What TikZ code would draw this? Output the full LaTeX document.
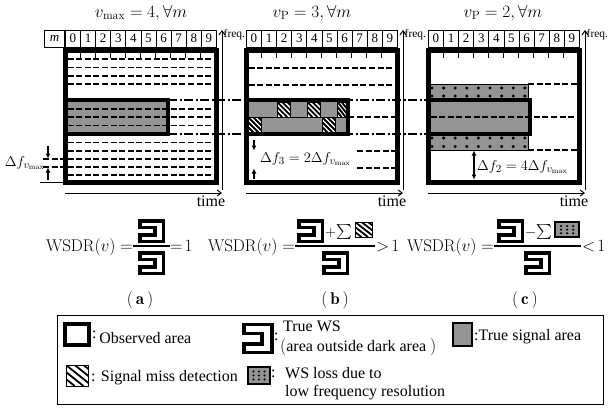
\documentclass[tikz,border=0pt]{standalone}
\usepackage{amssymb}
\usepackage{fontspec}
\newfontfamily\tms{Liberation Serif}
\usetikzlibrary{positioning,arrows.meta}

\tikzset{
  obsbox/.style={line width=5pt},
  sigfill/.style={fill=black!42},
  sigedge/.style={line width=3.5pt},
  dashline/.style={line width=1.1pt, dash pattern=on 6pt off 2.6pt},
  bandline/.style={line width=1.2pt, dash pattern=on 9pt off 2.5pt on 2pt off 2.5pt},
  axis/.style={line width=1pt, -{Straight Barb[length=4pt,width=6pt]}},
  gap/.style={line width=1.3pt, -{Latex[length=5pt,width=5pt]}},
  cell/.style={draw, line width=0.8pt, minimum width=15.1pt, minimum height=17pt,
    inner sep=0pt, font=\tms\fontsize{13}{13}\selectfont},
  lbl/.style={inner sep=0pt, font=\tms\fontsize{16}{18}\selectfont},
  small/.style={inner sep=0pt, font=\tms\fontsize{11.5}{12}\selectfont},
  eq/.style={inner sep=0pt, font=\fontsize{15}{18}\selectfont},
  eqbig/.style={inner sep=0pt, font=\fontsize{17}{20}\selectfont},
  ws/.pic={
    \draw[line width=3.5pt] (1.75,1.75) -- (25.25,1.75) -- (25.25,22.25) -- (1.75,22.25)
      -- (1.75,16) -- (17,16) -- (17,8.5) -- (1.75,8.5) -- cycle;
  },
  miss/.pic={
    \fill[white] (0,0) rectangle (13,15);
    \begin{scope}
      \clip (0,0) rectangle (13,15);
      \foreach \s in {-15,-10,...,15}
        \draw[line width=1.8pt] (\s,0) -- ++(15,15);
    \end{scope}
    \draw[line width=0.8pt] (0,0) rectangle (13,15);
  },
  loss/.pic={
    \filldraw[sigfill, line width=1.8pt] (0,0) rectangle (22,17);
    \foreach \i in {5.5,11,16.5}
      \foreach \j in {4.5,8.5,12.5}
        \fill (\i,\j) circle (1.2);
  }
}

\begin{document}
\begin{tikzpicture}[x=1pt, y=-1pt]
  \useasboundingbox (0,0) rectangle (608,408);

  % band edges across the panels
  \draw[bandline] (168,100) -- (428,100);
  \draw[bandline] (168,134) -- (428,134);

  % (a)
  \fill[sigfill] (65,100) rectangle (168,134);
  \foreach \y in {59,67.5,76,84,109,117,125.5,142.5,151,159,167,175}
    \draw[dashline] (67.5,\y) -- (213.5,\y);
  \draw[sigedge] (65,100) rectangle (168,134);
  \draw[dashline] (43,159) -- (65,159);
  \draw[dashline] (43,167) -- (65,167);
  \draw[line width=1pt] (40,182) -- (65,182);
  \coordinate (dA1) at (48,146);
  \coordinate (dA2) at (48,158.5);
  \coordinate (dA3) at (48,180);
  \coordinate (dA4) at (48,167.5);
  \draw[gap] (dA1) -- (dA2);
  \draw[gap] (dA3) -- (dA4);
  \node[eq, anchor=east] (dfa) at (45,163) {$\Delta f_{v_{\max}}$};
  \node[cell, anchor=south east, minimum width=20pt] (hm) at (65,47.5) {\textit{m}};

  % (b)
  \fill[sigfill] (246,100) rectangle (348,134);
  \foreach \y in {68,85}
    \draw[dashline] (248.5,\y) -- (394.5,\y);
  \draw[dashline] (348,117) -- (394.5,117);
  \draw[line width=0.8pt] (246,117) -- (348,117);
  \pic at (277.2,102) {miss};
  \pic at (307.4,102) {miss};
  \pic[xscale=0.8] at (337.6,102) {miss};
  \pic at (248.5,117.5) {miss};
  \pic at (322.5,117.5) {miss};
  \draw[sigedge] (246,100) rectangle (348,134);
  \foreach \y in {151,168}
    \draw[dashline] (357,\y) -- (394.5,\y);
  \coordinate (dB1) at (254,140);
  \coordinate (dB2) at (254,150.5);
  \coordinate (dB3) at (254,179);
  \coordinate (dB4) at (254,168.5);
  \draw[gap] (dB1) -- (dB2);
  \draw[gap] (dB3) -- (dB4);
  \node[eq, anchor=west] (dfb) at (260,159) {$\Delta f_3 = 2\Delta f_{v_{\max}}$};

  % (c)
  \filldraw[sigfill, line width=0.8pt] (428,84) rectangle (528,150);
  \foreach \k in {0,...,8}
    \foreach \y in {88,96,138,146.5}
      \fill (432+\k*11.6,\y) circle (1.7);
  \fill[sigfill] (428,100) rectangle (530,134);
  \draw[dashline] (430.5,117) -- (576.5,117);
  \draw[dashline] (528,84) -- (576.5,84);
  \draw[dashline] (528,150) -- (576.5,150);
  \draw[sigedge] (428,100) rectangle (530,134);
  \coordinate (dC1) at (474,150.5);
  \coordinate (dC2) at (474,179.5);
  \draw[gap, {Latex[length=5pt,width=5pt]}-{Latex[length=5pt,width=5pt]}] (dC1) -- (dC2);
  \node[eq, anchor=west] (dfc) at (477,167) {$\Delta f_2 = 4\Delta f_{v_{\max}}$};

  % panels: frame, slots, axes
  \foreach \px [count=\n] in {65,246,428} {
    \draw[obsbox] (\px,50) rectangle ++(151,132);
    \foreach \k in {1,...,9}
      \draw[line width=1pt] (\px+\k*15.1,52.5) -- ++(0,5.5);
    \foreach \k in {0,...,9}
      \node[cell, anchor=south west] (h\n-\k) at (\px+\k*15.1,47.5) {\k};
    \coordinate (t\n) at (\px,193);
    \coordinate (T\n) at (\px+157,193);
    \draw[axis] (t\n) -- (T\n);
    \node[lbl, anchor=base] (time\n) at (\px+146,206) {time};
    \coordinate (f\n) at (\px+157,190);
    \coordinate (F\n) at (\px+157,30);
    \draw[axis] (f\n) -- (F\n);
    \node[small, anchor=base west] (freq\n) at (\px+158.5,37) {freq.};
  }

  \node[eqbig] (ttl1) at (141,13) {$v_{\max} = 4, \forall m$};
  \node[eqbig] (ttl2) at (312,13) {$v_{\mathrm{P}} = 3, \forall m$};
  \node[eqbig] (ttl3) at (503,13) {$v_{\mathrm{P}} = 2, \forall m$};

  % ratios
  \node[eqbig, anchor=base east] (wa) at (133,251) {$\mathrm{WSDR}\bigl(v\bigr) =$};
  \draw[line width=1.2pt] (133,246) -- (170,246);
  \pic at (138,219) {ws};
  \pic at (138,251) {ws};
  \node[eqbig, anchor=base west] (ra) at (170,251) {$=\!1$};

  \node[eqbig, anchor=base east] (wb) at (295,251) {$\mathrm{WSDR}\bigl(v\bigr) =$};
  \draw[line width=1.2pt] (295,246) -- (375,246);
  \pic at (297,219) {ws};
  \node[eq, anchor=base west] (sb) at (325,236) {${+}{\sum}$};
  \pic[xscale=1.3] at (355,222) {miss};
  \pic at (322,251) {ws};
  \node[eqbig, anchor=base west] (rb) at (376,251) {$>\!1$};

  \node[eqbig, anchor=base east] (wc) at (494,251) {$\mathrm{WSDR}\bigl(v\bigr) =$};
  \draw[line width=1.2pt] (494,246) -- (581,246);
  \pic at (497,219) {ws};
  \node[eq, anchor=base west] (sc) at (525,236) {${-}{\sum}$};
  \pic[xscale=1.1, yscale=0.9] at (555,222) {loss};
  \pic at (524,251) {ws};
  \node[eqbig, anchor=base west] (rc) at (582,251) {$<\!1$};

  \node[eqbig] (la) at (140,300) {$\bigl(\,\mathbf{a}\,\bigr)$};
  \node[eqbig] (lb) at (335,300) {$\bigl(\,\mathbf{b}\,\bigr)$};
  \node[eqbig] (lc) at (525,300) {$\bigl(\,\mathbf{c}\,\bigr)$};

  % legend
  \draw[line width=1pt] (57,315) rectangle (603,404);
  \draw[line width=4pt] (65,324) rectangle (89,345);
  \node[lbl, anchor=base west] (kobs) at (92,343) {\raisebox{5pt}{:}\,Observed area};
  \pic[xscale=1.18, yscale=1.38] at (242,322) {ws};
  \node[lbl, anchor=base west] (kcol) at (274,340) {:};
  \node[lbl, anchor=base west] (kws1) at (283,331) {True WS};
  \node[lbl, anchor=base west] (kws2) at (280,351) {$\bigl($area outside dark area $\bigr)$};
  \filldraw[sigfill, line width=2pt] (453,323) rectangle (472,346);
  \node[lbl, anchor=base west] (ksig) at (474,340) {:True signal area};
  \pic[xscale=1.75, yscale=1.4] at (66,365) {miss};
  \node[lbl, anchor=base west] (kmiss) at (91,381) {: Signal miss detection};
  \pic at (248,367) {loss};
  \node[lbl, anchor=base west] (kcol2) at (271,377) {:};
  \node[lbl, anchor=base west] (kloss1) at (285,378) {WS loss due to};
  \node[lbl, anchor=base west] (kloss2) at (285,396) {low frequency resolution};
\end{tikzpicture}
\end{document}
